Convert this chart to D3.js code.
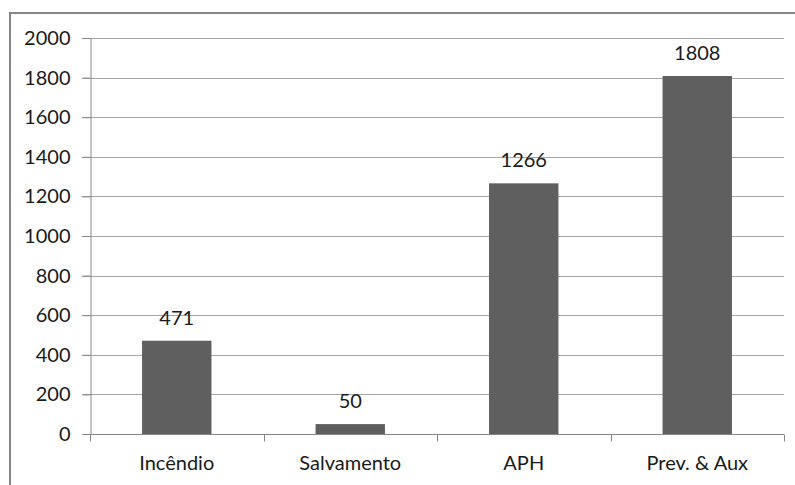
<!DOCTYPE html>
<html><head><meta charset="utf-8">
<script src="https://cdn.jsdelivr.net/npm/d3@7"></script>
<style>body{margin:0;background:#fff;} svg{display:block;} text{font-family:Lato, "Open Sans", sans-serif;fill:#1a1a1a;}</style>
</head><body>
<svg id="c" width="795" height="485"></svg>
<script>
const categories = ["Incêndio", "Salvamento", "APH", "Prev. & Aux"];
const values = [471, 50, 1266, 1808];
const yTicks = [0, 200, 400, 600, 800, 1000, 1200, 1400, 1600, 1800, 2000];

const svg = d3.select("#c");
const m = {l: 90, r: 11, t: 38, b: 51};
const W = 795, H = 485;
const FS = 20;

// outer frame (cropped at right/bottom)
svg.append("rect").attr("x", 10).attr("y", 13).attr("width", 800).attr("height", 500)
  .attr("fill", "none").attr("stroke", "#868686").attr("stroke-width", 2);

const x = d3.scaleBand().domain(categories).range([m.l, W - m.r]).paddingInner(0).paddingOuter(0);
const y = d3.scaleLinear().domain([0, 2000]).range([H - m.b, m.t]);

// gridlines
svg.append("g").selectAll("line").data(yTicks.slice(1)).join("line")
  .attr("x1", m.l - 8).attr("x2", W - m.r)
  .attr("y1", d => Math.round(y(d)) + 0.5).attr("y2", d => Math.round(y(d)) + 0.5)
  .attr("stroke", "#a6a6a6").attr("stroke-width", 1);

// y axis
const ya = svg.append("g").attr("transform", `translate(${m.l + 0.5},0)`)
  .call(d3.axisLeft(y).tickValues(yTicks).tickSize(8).tickPadding(12).tickFormat(d3.format("d")));
ya.select(".domain").attr("stroke", "#868686");
ya.selectAll(".tick line").attr("stroke", "#868686");
ya.selectAll(".tick text").attr("font-size", FS).attr("font-family", "Lato").attr("fill", "#1a1a1a");

// bars
const bw = x.bandwidth() * 0.4;
svg.append("g").selectAll("rect").data(values).join("rect")
  .attr("x", (d, i) => x(categories[i]) + (x.bandwidth() - bw) / 2)
  .attr("width", bw)
  .attr("y", d => y(d))
  .attr("height", d => y(0) - y(d))
  .attr("fill", "#5f5f5f");

// x axis
const xa = svg.append("g").attr("transform", `translate(0,${Math.round(y(0)) + 0.5})`);
xa.append("line").attr("x1", m.l).attr("x2", W - m.r).attr("stroke", "#868686");
const bounds = categories.map(c => x(c)).concat([W - m.r]);
xa.selectAll("line.t").data(bounds).join("line").attr("class", "t")
  .attr("x1", d => Math.round(d) + 0.5).attr("x2", d => Math.round(d) + 0.5)
  .attr("y1", 0).attr("y2", 7).attr("stroke", "#868686");
xa.selectAll("text").data(categories).join("text")
  .attr("x", d => x(d) + x.bandwidth() / 2).attr("y", 35)
  .attr("text-anchor", "middle").attr("font-size", FS).text(d => d);

// data labels
svg.append("g").selectAll("text").data(values).join("text")
  .attr("x", (d, i) => x(categories[i]) + x.bandwidth() / 2)
  .attr("y", d => y(d) - 16)
  .attr("text-anchor", "middle").attr("font-size", FS).text(d => d);
</script>
</body></html>
